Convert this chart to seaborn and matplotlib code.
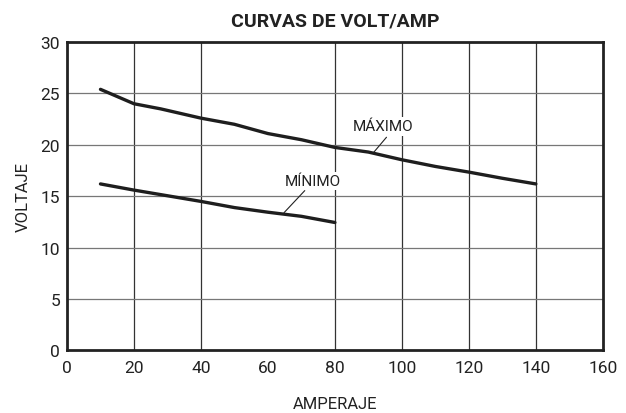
import matplotlib
matplotlib.use("Agg")
import matplotlib.pyplot as plt
import seaborn as sns
import pandas as pd

# curva maxima / minima
amp_max = [10, 20, 28, 40, 50, 60, 70, 80, 90, 100, 110, 120, 130, 140]
volt_max = [25.4, 24.0, 23.5, 22.6, 22.0, 21.1, 20.5, 19.75, 19.3, 18.55, 17.9, 17.35, 16.75, 16.2]
amp_min = [10, 20, 30, 40, 50, 60, 70, 80]
volt_min = [16.2, 15.6, 15.05, 14.5, 13.9, 13.45, 13.05, 12.45]

x_ticks = [0, 20, 40, 60, 80, 100, 120, 140, 160]
y_ticks = [0, 5, 10, 15, 20, 25, 30]
x_grid = [20, 40, 80, 100, 120, 140]

sns.set_style("white")
plt.rcParams['font.family'] = ['Roboto', 'DejaVu Sans']

df_max = pd.DataFrame({"amp": amp_max, "volt": volt_max})
df_min = pd.DataFrame({"amp": amp_min, "volt": volt_min})

fig = plt.figure(figsize=(6.26, 4.14), dpi=100)
ax = fig.add_axes([0.107, 0.151, 0.856, 0.745])

for xv in x_grid:
    ax.axvline(xv, color="#333333", lw=0.9, zorder=1)
for yv in y_ticks[1:-1]:
    ax.axhline(yv, color="#777777", lw=0.9, zorder=1)

sns.lineplot(data=df_max, x="amp", y="volt", ax=ax, color="#1e1e1e", lw=2.4, zorder=3)
sns.lineplot(data=df_min, x="amp", y="volt", ax=ax, color="#1e1e1e", lw=2.4, zorder=3)

ax.set_xlim(0, 160)
ax.set_ylim(0, 30)
ax.set_xticks(x_ticks)
ax.set_yticks(y_ticks)
ax.tick_params(length=0, labelsize=12.5, colors="#222222")
ax.tick_params(axis="x", pad=7)
ax.tick_params(axis="y", pad=5)

for s in ax.spines.values():
    s.set_visible(True)
    s.set_color("#222222")
    s.set_linewidth(2.0)

ax.set_xlabel("AMPERAJE", fontsize=12, color="#222222", labelpad=15)
ax.set_ylabel("VOLTAJE", fontsize=12, color="#222222", labelpad=7)
ax.set_title("CURVAS DE VOLT/AMP", fontsize=14, fontweight="bold", color="#222222", pad=12)

# labels with white background, leaders drawn separately
box = dict(boxstyle="square,pad=0.15", fc="white", ec="none")
ax.text(94.3, 21.8, "MÁXIMO", fontsize=11, color="#222222", ha="center", va="center",
        bbox=box, zorder=4)
ax.text(73.4, 16.5, "MÍNIMO", fontsize=11, color="#222222", ha="center", va="center",
        bbox=box, zorder=4)
leader = dict(arrowstyle="-", color="#222222", lw=0.8, shrinkA=0, shrinkB=0)
ax.annotate("", xy=(91.6, 19.28), xytext=(95.4, 20.74), arrowprops=leader, zorder=5)
ax.annotate("", xy=(64.8, 13.4), xytext=(71.0, 15.55), arrowprops=leader, zorder=5)

fig.savefig("out.png", dpi=100)
